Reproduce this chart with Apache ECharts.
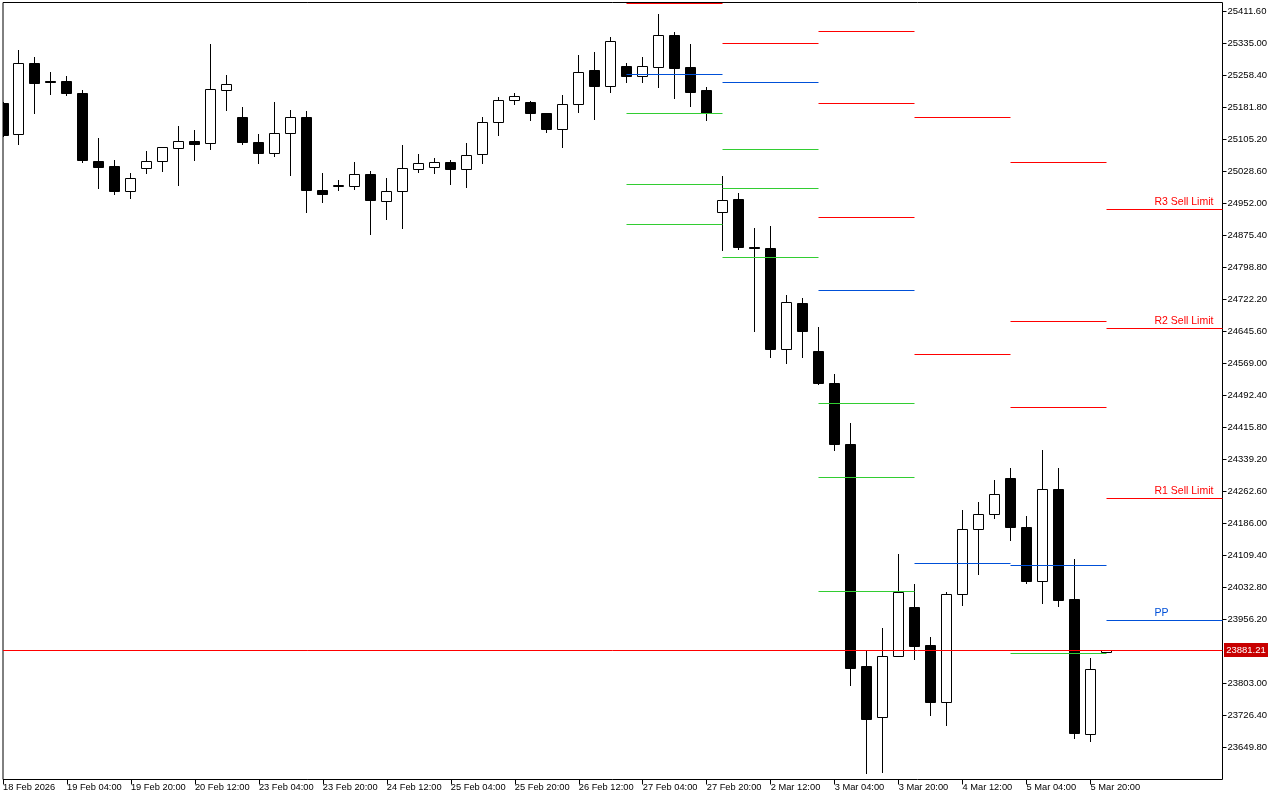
<!DOCTYPE html>
<html><head><meta charset="utf-8">
<script src="https://cdn.jsdelivr.net/npm/echarts@6/dist/echarts.min.js"></script>
<style>html,body{margin:0;padding:0;background:#fff}#c{width:1280px;height:800px}</style>
</head><body><div id="c"></div>
<script>
// ---- candle data (H4), index 0 = 18 Feb 12:00 ----
const opens = [25190.2,25117.6,25288.3,25244.0,25245.2,25216.5,25053.7,25039.4,24980.2,25035.3,
  25052.1,25083.2,25100.9,25095.2,25223.0,25156.7,25099.2,25071.2,25120.0,25156.7,
  24984.3,24992.7,24993.2,25022.6,24957.3,24981.2,25033.9,25038.7,25050.6,25033.9,
  25069.8,25146.4,25199.0,25194.2,25167.9,25129.6,25189.5,25269.2,25232.5,25281.1,
  25256.5,25278.0,25355.3,25276.4,25221.3,24930.9,24960.4,24845.5,24844.3,24603.0,
  24713.8,24598.9,24522.3,24376.3,23842.5,23722.1,23868.1,23986.1,23892.8,23758.0,
  24016.5,24172.1,24208.0,24294.9,24177.6,24046.7,24266.2,24002.9,23681.4,23877.7];
const highs = [25195.0,25319.4,25302.7,25266.8,25257.2,25223.7,25108.8,25056.1,25025.0,25077.7,
  25088.4,25137.5,25127.9,25333.8,25259.6,25183.0,25118.4,25195.0,25175.8,25173.4,
  25025.0,25008.3,25051.3,25029.8,25013.0,25092.0,25070.5,25060.9,25055.4,25096.8,
  25159.1,25206.9,25216.5,25197.4,25168.6,25211.7,25307.5,25314.7,25350.6,25288.3,
  25302.7,25405.6,25362.5,25333.8,25230.2,25017.8,24976.4,24892.6,24898.1,24733.0,
  24725.8,24656.4,24543.9,24426.6,23882.5,23935.9,24113.0,24041.2,23914.3,24021.3,
  24218.3,24237.5,24290.1,24318.9,24204.0,24361.9,24318.9,24101.0,23864.0,23882.4];
const lows = [25110.0,25092.0,25167.0,25212.4,25210.0,25049.7,24987.4,24973.1,24962.8,25023.3,
  25027.4,24994.6,25054.4,25080.8,25174.1,25092.8,25047.3,25064.0,25018.5,24930.0,
  24953.9,24982.6,24985.0,24877.3,24913.2,24891.7,25025.7,25023.3,24997.0,24989.8,
  25047.3,25114.3,25188.5,25150.2,25121.5,25085.6,25169.4,25152.6,25217.2,25241.2,
  25241.2,25229.2,25202.9,25183.7,25150.2,24839.0,24841.4,24645.1,24582.9,24568.5,
  24582.9,24518.7,24360.3,23797.7,23587.1,23589.5,23866.4,23860.0,23725.9,23702.0,
  23989.2,24063.4,24197.5,24144.8,24041.9,23994.0,23986.8,23670.1,23663.7,23876.5];
const closes = [25114.3,25287.6,25238.8,25241.6,25214.8,25054.4,25037.7,24980.2,25012.3,25053.0,
  25086.5,25100.9,25094.4,25225.4,25237.3,25097.5,25071.2,25120.0,25156.7,24982.6,
  24973.1,24993.9,25021.9,24958.7,24981.2,25036.3,25048.2,25050.6,25032.9,25067.4,
  25146.4,25199.0,25208.6,25167.0,25128.7,25189.5,25266.1,25231.6,25340.3,25255.5,
  25280.4,25354.6,25274.7,25217.2,25168.6,24959.7,24846.2,24844.0,24602.0,24715.5,
  24645.1,24520.7,24374.6,23838.4,23716.3,23868.1,24021.3,23891.1,23757.0,24016.5,
  24172.1,24208.0,24255.9,24175.9,24046.7,24266.2,24001.2,23682.8,23837.7,23881.21];
const lastPrice = 23881.21;

// ---- time axis labels (every 4th candle) ----
const timeLabelPos = [0,4,8,12,16,20,24,28,32,36,40,44,48,52,56,60,64,68];
const timeLabels = ['18 Feb 2026','19 Feb 04:00','19 Feb 20:00','20 Feb 12:00','23 Feb 04:00','23 Feb 20:00',
  '24 Feb 12:00','25 Feb 04:00','25 Feb 20:00','26 Feb 12:00','27 Feb 04:00','27 Feb 20:00',
  '2 Mar 12:00','3 Mar 04:00','3 Mar 20:00','4 Mar 12:00','5 Mar 04:00','5 Mar 20:00'];

// ---- price axis tick labels ----
const priceTicks = [23649.8,23726.4,23803.0,23956.2,24032.8,24109.4,24186.0,24262.6,24339.2,24415.8,
  24492.4,24569.0,24645.6,24722.2,24798.8,24875.4,24952.0,25028.6,25105.2,25181.8,25258.4,25335.0,25411.6];

// ---- daily pivot levels (start candle index of each day) ----
const dayStarts = [39,45,51,57,63,69];
const R3 = [null,null,25364.9,null,25049.0,24938.8];
const R2 = [null,null,25190.2,25156.7,24670.7,24651.6];
const R1 = [25430.0,25333.8,24917.3,24589.4,24462.5,24244.7];
const PP = [25259.6,25242.8,24743.7,24089.1,24084.3,23955.0];
const S1 = [25168.6,25080.1,24472.1,null,23876.0,null];
const S2 = [24996.3,24989.1,24297.3,null,null,null];
const S3 = [24902.9,24823.9,24024.4,null,null,null];
const levelNames = ['R3','R2','R1','PP','S1','S2','S3'];
const levelLabels = ['R3 Sell Limit','R2 Sell Limit','R1 Sell Limit','PP','','',''];

// ---- styling / layout ----
const X_MIN = 0, X_MAX = 76.25;
const Y_MIN = 23573.2, Y_MAX = 25433.14;
const RED = '#ff0000', BLUE = '#0050d8', GREEN = '#32cd32';
const levelColors = [RED,RED,RED,BLUE,GREEN,GREEN,GREEN];
const FONT = "'Liberation Sans', Arial, sans-serif";

const candleData = opens.map((o,i)=>[i,o,closes[i],lows[i],highs[i]]);
const levelSets = [R3,R2,R1,PP,S1,S2,S3];
const levelData = [];
levelSets.forEach((arr,k)=>{
  arr.forEach((v,d)=>{
    if (v === null) return;
    const s = dayStarts[d];
    const e = d < dayStarts.length-1 ? dayStarts[d+1] : X_MAX;
    levelData.push([s,e,v,k,d === dayStarts.length-1 ? 1 : 0]);
  });
});

function crisp(v){ return Math.round(v-0.5)+0.5; }

function renderCandle(params, api){
  const i = api.value(0), o = api.value(1), c = api.value(2), l = api.value(3), h = api.value(4);
  const pO = api.coord([i,o]), pC = api.coord([i,c]), pL = api.coord([i,l]), pH = api.coord([i,h]);
  const x = crisp(pO[0]);
  const yTop = crisp(Math.min(pO[1],pC[1]));
  let yBot = crisp(Math.max(pO[1],pC[1]));
  if (yBot - yTop < 1) yBot = yTop + 1;
  const up = c >= o;
  return {type:'group', children:[
    {type:'line', shape:{x1:x,y1:Math.round(pH[1]),x2:x,y2:Math.round(pL[1])}, style:{stroke:'#000',lineWidth:1}},
    {type:'rect', shape:{x:x-5,y:yTop,width:10,height:yBot-yTop}, style:{fill: up?'#fff':'#000', stroke:'#000', lineWidth:1}}
  ]};
}

function renderLevel(params, api){
  const s = api.value(0), e = api.value(1), p = api.value(2), k = api.value(3), last = api.value(4);
  const a = api.coord([s,p]), b = api.coord([e,p]);
  const cs = params.coordSys;
  const y = crisp(a[1]);
  const x1 = crisp(a[0]);
  const x2 = Math.min(crisp(b[0]), cs.x + cs.width);
  const children = [{type:'line', shape:{x1:x1,y1:y,x2:x2,y2:y}, style:{stroke:levelColors[k], lineWidth:1}}];
  if (last && levelLabels[k]) {
    children.push({type:'text', x: cs.x + cs.width - 68, y: y - 2,
      style:{text: levelLabels[k], fill: levelColors[k], font: '10.5px ' + FONT, textAlign:'left', textVerticalAlign:'bottom'}});
  }
  return {type:'group', children};
}

function renderPrice(params, api){
  const p = api.value(1);
  const cs = params.coordSys;
  const y = crisp(api.coord([0,p])[1]);
  const right = cs.x + cs.width;
  return {type:'group', children:[
    {type:'line', shape:{x1:cs.x,y1:y,x2:right,y2:y}, style:{stroke:RED,lineWidth:1}},
    {type:'rect', shape:{x:right+1.5,y:y-7.5,width:44,height:14}, style:{fill:'#c80000'}},
    {type:'text', x: right+23.5, y: y, style:{text: p.toFixed(2), fill:'#fff', font:'9.5px '+FONT, textAlign:'center', textVerticalAlign:'middle'}}
  ]};
}

const chart = echarts.init(document.getElementById('c'), null, {renderer:'canvas'});
chart.setOption({
  animation:false,
  backgroundColor:'#fff',
  grid:{left:2.5, top:2.5, right:57.5, bottom:20.5, show:true, borderColor:'#000', borderWidth:1, backgroundColor:'#fff'},
  xAxis:{type:'value', min:X_MIN, max:X_MAX,
    axisLine:{show:false, onZero:false},
    splitLine:{show:false},
    axisTick:{show:true, customValues:timeLabelPos, length:5, lineStyle:{color:'#000',width:1}},
    axisLabel:{show:true, customValues:timeLabelPos, margin:3, align:'left', color:'#000', fontSize:9.3, fontFamily:FONT,
      formatter:(v)=>{ const k = timeLabelPos.indexOf(Math.round(v)); return k>=0 ? timeLabels[k] : ''; }}
  },
  yAxis:{type:'value', position:'right', min:Y_MIN, max:Y_MAX, scale:true,
    axisLine:{show:false, onZero:false},
    splitLine:{show:false},
    axisTick:{show:true, customValues:priceTicks, length:4, lineStyle:{color:'#000',width:1}},
    axisLabel:{show:true, customValues:priceTicks, margin:5, color:'#000', fontSize:9.5, fontFamily:FONT,
      formatter:(v)=>Number(v).toFixed(2)}
  },
  series:[
    {type:'custom', name:'candles', renderItem:renderCandle, data:candleData, encode:{x:0,y:[1,2,3,4]}, clip:true, z:2},
    {type:'custom', name:'pivots', renderItem:renderLevel, data:levelData, encode:{x:[0,1],y:2}, clip:true, z:3},
    {type:'custom', name:'price', renderItem:renderPrice, data:[[0,lastPrice]], encode:{x:0,y:1}, clip:false, z:4}
  ]
});
</script></body></html>
